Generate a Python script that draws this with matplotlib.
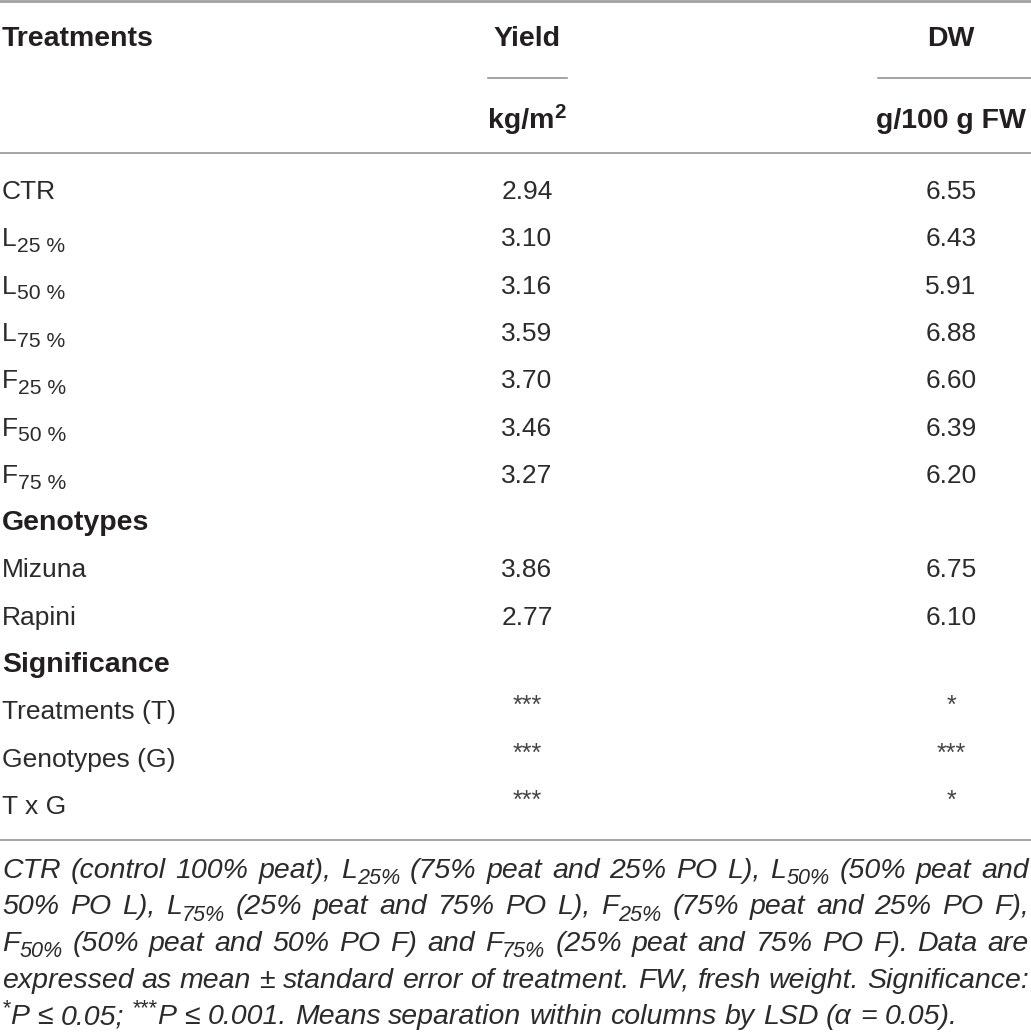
import re
import matplotlib
matplotlib.use('Agg')
import matplotlib.pyplot as plt

# table content
treatments = ["CTR", "L_{25 %}", "L_{50 %}", "L_{75 %}", "F_{25 %}", "F_{50 %}", "F_{75 %}"]
yield_trt = ["2.94", "3.10", "3.16", "3.59", "3.70", "3.46", "3.27"]
dw_trt = ["6.55", "6.43", "5.91", "6.88", "6.60", "6.39", "6.20"]

genotypes = ["Mizuna", "Rapini"]
yield_gen = ["3.86", "2.77"]
dw_gen = ["6.75", "6.10"]

sig_labels = ["Treatments (T)", "Genotypes (G)", "T x G"]
yield_sig = ["***", "***", "***"]
dw_sig = ["*", "***", "*"]

footnote = [
    "CTR (control 100% peat), L_{25%} (75% peat and 25% PO L), L_{50%} (50% peat and",
    "50% PO L), L_{75%} (25% peat and 75% PO L), F_{25%} (75% peat and 25% PO F),",
    "F_{50%} (50% peat and 50% PO F) and F_{75%} (25% peat and 75% PO F). Data are",
    "expressed as mean \u00b1 standard error of treatment. FW, fresh weight. Significance:",
    "^{*}P \u2264 0.05; ^{***}P \u2264 0.001. Means separation within columns by LSD (\u03b1 = 0.05).",
]

W, H = 1031, 1033
PX = 100 / 72.0  # pixels per point
TXT = '#231f20'
BODY = '#2b2b2b'
RULE = '#8a8a8a'

plt.rcParams['font.family'] = ['Liberation Sans', 'DejaVu Sans']

fig = plt.figure(figsize=(W / 100, H / 100), dpi=100)
ax = fig.add_axes([0, 0, 1, 1])
ax.set_xlim(0, W)
ax.set_ylim(H, 0)
ax.axis('off')
renderer = fig.canvas.get_renderer()


def parse(s):
    runs = []
    for sub, sup, norm in re.findall(r'_\{([^}]*)\}|\^\{([^}]*)\}|([^_^]+)', s):
        if sub:
            runs.append((sub, 'sub'))
        elif sup:
            runs.append((sup, 'sup'))
        else:
            runs.append((norm, 'n'))
    return runs


def make_runs(y, s, size, style='normal', weight='normal', color=BODY, scale=0.78):
    items = []
    for txt, kind in parse(s):
        fs = size if kind == 'n' else size * scale
        dy = 0
        if kind == 'sub':
            dy = 0.22 * size * PX
        elif kind == 'sup':
            dy = -0.36 * size * PX
        t = ax.text(0, y + dy, txt, fontsize=fs, fontstyle=style, fontweight=weight,
                    color=color, va='baseline', ha='left')
        w = t.get_window_extent(renderer).width
        items.append((t, w))
    return items


def place(items, x):
    for t, w in items:
        t.set_x(x)
        x += w
    return x


def draw(x, y, s, size, ha='left', **kw):
    items = make_runs(y, s, size, **kw)
    total = sum(w for _, w in items)
    if ha == 'center':
        x = x - total / 2
    elif ha == 'right':
        x = x - total
    place(items, x)


FS = 19
X0, X_Y, X_D = 2, 527, 951

# header
ax.plot([0, W], [1, 1], color='#a0a0a0', lw=2)
draw(X0, 46, "Treatments", 20.5, weight='bold', color=TXT)
draw(X_Y, 46, "Yield", 20.5, ha='center', weight='bold', color=TXT)
draw(X_D, 46, "DW", 20.5, ha='center', weight='bold', color=TXT)
ax.plot([488, 567], [78, 78], color=RULE, lw=1.1)
ax.plot([878, W], [78, 78], color=RULE, lw=1.1)
draw(X_Y, 128, "kg/m^{2}", 20.5, ha='center', weight='bold', color=TXT, scale=0.72)
draw(X_D, 128, "g/100 g FW", 20.5, ha='center', weight='bold', color=TXT)
ax.plot([0, W], [153, 153], color=RULE, lw=1.1)

# body rows
rows = []
for lab, a, b in zip(treatments, yield_trt, dw_trt):
    rows.append((lab, a, b, False))
rows.append(("Genotypes", "", "", True))
for lab, a, b in zip(genotypes, yield_gen, dw_gen):
    rows.append((lab, a, b, False))
rows.append(("Significance", "", "", True))
for lab, a, b in zip(sig_labels, yield_sig, dw_sig):
    rows.append((lab, a, b, False))

y0, step = 199, 47.3
for i, (lab, a, b, head) in enumerate(rows):
    y = y0 + i * step
    if head:
        draw(X0, y, lab, 20.5, weight='bold', color=TXT)
        continue
    draw(X0, y, lab, FS, scale=0.8)
    if a.startswith('*'):
        draw(X_Y, y - 6, a, 18, ha='center', color='#444444')
        draw(X_D, y - 6, b, 18, ha='center', color='#444444')
    else:
        draw(X_Y, y, a, FS, ha='center')
        draw(X_D, y, b, FS, ha='center')

ax.plot([0, W], [840, 840], color=RULE, lw=1.1)

# footnote, justified
FN = 20.5
fy0, fstep = 878, 36.5
for i, line in enumerate(footnote):
    y = fy0 + i * fstep
    words = [make_runs(y, wd, FN, style='italic', scale=0.76) for wd in line.split(' ')]
    widths = [sum(w for _, w in wd) for wd in words]
    if i < len(footnote) - 1:
        gap = (W - 2 - X0 - sum(widths)) / (len(words) - 1)
    else:
        gap = 0.278 * FN * PX
    x = X0
    for wd, w in zip(words, widths):
        place(wd, x)
        x += w + gap

fig.savefig('out.png', dpi=100)
